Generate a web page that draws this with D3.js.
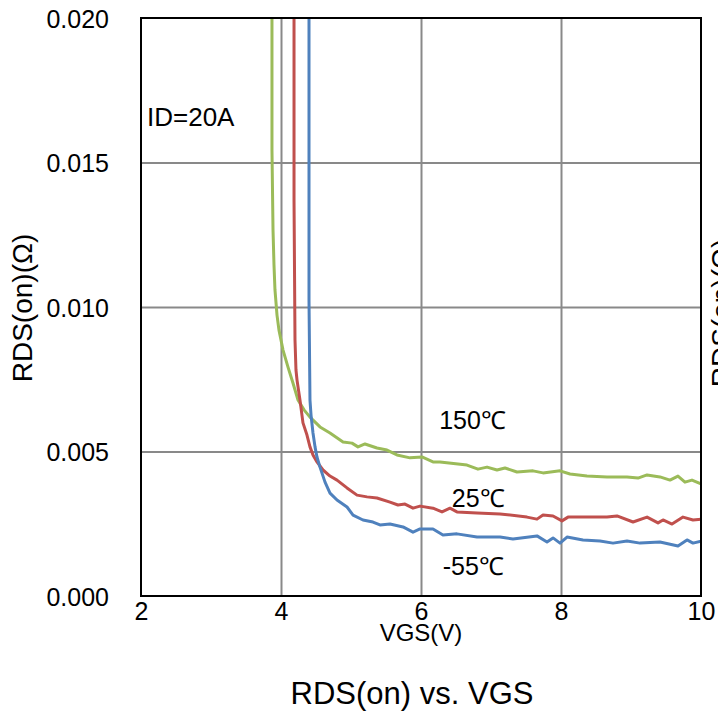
<!DOCTYPE html>
<html>
<head>
<meta charset="utf-8">
<script src="https://cdn.jsdelivr.net/npm/d3@7"></script>
<style>
  html, body { margin: 0; padding: 0; background: #fff; }
  svg { display: block; }
  text { font-family: "Liberation Sans", Arial, sans-serif; fill: #000; }
</style>
</head>
<body>
<svg id="chart" width="718" height="720"></svg>
<script>
// ---- data ----
const xTicks = [2, 4, 6, 8, 10];
const yTicks = [0, 0.005, 0.010, 0.015, 0.020];
const yTickLabels = ["0.000", "0.005", "0.010", "0.015", "0.020"];

const seriesNames = ["150℃", "25℃", "-55℃"];
const seriesColors = ["#9BBB59", "#C0504D", "#4F81BD"];

const vgs150 = [3.871,3.871,3.886,3.900,3.914,3.943,3.971,4.029,4.100,4.171,4.243,4.329,4.414,4.557,4.700,4.886,5.014,5.100,5.200,5.371,5.514,5.657,5.843,6.014,6.171,6.271,6.657,6.814,6.943,7.086,7.200,7.371,7.600,7.743,7.986,8.129,8.371,8.657,8.943,9.100,9.229,9.414,9.557,9.671,9.771,9.871,10.0];
const rds150 = [0.0200,0.01543,0.01266,0.01145,0.01059,0.00972,0.00920,0.00851,0.00792,0.00737,0.00678,0.00644,0.00619,0.00585,0.00564,0.00533,0.00529,0.00516,0.00526,0.00512,0.00505,0.00488,0.00478,0.00481,0.00464,0.00464,0.00453,0.00439,0.00446,0.00436,0.00443,0.00429,0.00433,0.00426,0.00433,0.00422,0.00415,0.00412,0.00412,0.00408,0.00419,0.00412,0.00401,0.00415,0.00394,0.00401,0.00388];

const vgs25 = [4.186,4.186,4.200,4.214,4.229,4.271,4.314,4.371,4.414,4.457,4.514,4.600,4.700,4.800,4.943,5.086,5.229,5.371,5.557,5.671,5.771,5.886,5.986,6.171,6.300,6.414,6.514,6.800,7.129,7.514,7.657,7.743,7.886,8.014,8.100,8.371,8.657,8.800,9.029,9.229,9.386,9.457,9.586,9.743,9.886,10.0];
const rds25 = [0.0200,0.01370,0.00886,0.00782,0.00747,0.00678,0.00599,0.00557,0.00516,0.00488,0.00464,0.00436,0.00415,0.00401,0.00374,0.00349,0.00343,0.00339,0.00325,0.00315,0.00318,0.00304,0.00311,0.00304,0.00291,0.00304,0.00291,0.00287,0.00284,0.00273,0.00266,0.00280,0.00277,0.00260,0.00273,0.00273,0.00273,0.00277,0.00256,0.00273,0.00253,0.00263,0.00249,0.00273,0.00263,0.00266];

const vgsM55 = [4.400,4.400,4.414,4.429,4.457,4.486,4.514,4.557,4.629,4.700,4.800,4.943,5.029,5.171,5.314,5.414,5.557,5.743,5.886,5.986,6.171,6.314,6.514,6.800,7.129,7.314,7.657,7.800,7.886,7.986,8.086,8.314,8.557,8.743,8.943,9.129,9.414,9.671,9.800,9.886,10.0];
const rdsM55 = [0.0200,0.01024,0.00678,0.00626,0.00564,0.00516,0.00481,0.00446,0.00394,0.00356,0.00332,0.00308,0.00280,0.00263,0.00256,0.00246,0.00249,0.00239,0.00221,0.00232,0.00232,0.00211,0.00215,0.00204,0.00204,0.00197,0.00208,0.00187,0.00201,0.00183,0.00204,0.00194,0.00190,0.00183,0.00190,0.00183,0.00187,0.00173,0.00194,0.00183,0.00190];

// annotation anchors (data coordinates)
const labelPos = [[6.26, 0.00578], [6.44, 0.00308], [6.31, 0.00073]];

const seriesX = [vgs150, vgs25, vgsM55];
const seriesY = [rds150, rds25, rdsM55];

// ---- layout ----
const svg = d3.select("#chart");
const L = 141, R = 701, T = 18, B = 596;
const x = d3.scaleLinear().domain([2, 10]).range([L, R]);
const y = d3.scaleLinear().domain([0, 0.020]).range([B, T]);

svg.append("defs").append("clipPath").attr("id", "clip")
  .append("rect").attr("x", L).attr("y", T).attr("width", R - L).attr("height", B - T);

// grid
const gx = d3.axisBottom(x).tickValues(xTicks.slice(1, -1)).tickSize(-(B - T)).tickFormat("");
svg.append("g").attr("transform", `translate(0,${B})`).call(gx)
  .call(g => g.select(".domain").remove())
  .call(g => g.selectAll("line").attr("stroke", "#898989").attr("stroke-width", 2));
const gy = d3.axisLeft(y).tickValues(yTicks.slice(1, -1)).tickSize(-(R - L)).tickFormat("");
svg.append("g").attr("transform", `translate(${L},0)`).call(gy)
  .call(g => g.select(".domain").remove())
  .call(g => g.selectAll("line").attr("stroke", "#898989").attr("stroke-width", 2));

// series
const line = d3.line().x(d => x(d[0])).y(d => y(d[1]));
seriesX.forEach((xs, i) => {
  const pts = xs.map((v, j) => [v, seriesY[i][j]]);
  svg.append("path").attr("clip-path", "url(#clip)")
    .attr("d", line(pts)).attr("fill", "none")
    .attr("stroke", seriesColors[i]).attr("stroke-width", 3)
    .attr("stroke-linejoin", "round").attr("stroke-linecap", "butt");
});

// frame
svg.append("rect").attr("x", L).attr("y", T).attr("width", R - L).attr("height", B - T)
  .attr("fill", "none").attr("stroke", "#000").attr("stroke-width", 2);

// tick labels
const ax = d3.axisBottom(x).tickValues(xTicks).tickSize(0).tickPadding(0).tickFormat(d3.format("d"));
svg.append("g").attr("transform", `translate(0,${B})`).call(ax)
  .call(g => g.select(".domain").remove())
  .call(g => g.selectAll("text").attr("font-size", 25).attr("dy", null).attr("y", 24)
    .attr("font-family", "Liberation Sans, Arial, sans-serif").attr("fill", "#000"));
const ay = d3.axisLeft(y).tickValues(yTicks).tickSize(0).tickPadding(0)
  .tickFormat((d, i) => yTickLabels[i]);
svg.append("g").attr("transform", `translate(${L},0)`).call(ay)
  .call(g => g.select(".domain").remove())
  .call(g => g.selectAll("text").attr("font-size", 25).attr("x", -32).attr("dy", "0.36em")
    .attr("font-family", "Liberation Sans, Arial, sans-serif").attr("fill", "#000"));

// axis titles
svg.append("text").attr("x", 421).attr("y", 641).attr("text-anchor", "middle")
  .attr("font-size", 24).text("VGS(V)");
svg.append("text").attr("x", 412).attr("y", 704).attr("text-anchor", "middle")
  .attr("font-size", 31).text("RDS(on) vs. VGS");
svg.append("text").attr("transform", "translate(32,308) rotate(-90)").attr("text-anchor", "middle")
  .attr("font-size", 28).text("RDS(on)(Ω)");
svg.append("text").attr("transform", "translate(731,313) rotate(-90)").attr("text-anchor", "middle")
  .attr("font-size", 28).text("RDS(on)(Ω)");

// annotations
svg.append("text").attr("x", 147).attr("y", 126).attr("font-size", 26).text("ID=20A");
seriesNames.forEach((n, i) => {
  svg.append("text").attr("x", x(labelPos[i][0])).attr("y", y(labelPos[i][1]))
    .attr("font-size", 25).text(n);
});
</script>
</body>
</html>
